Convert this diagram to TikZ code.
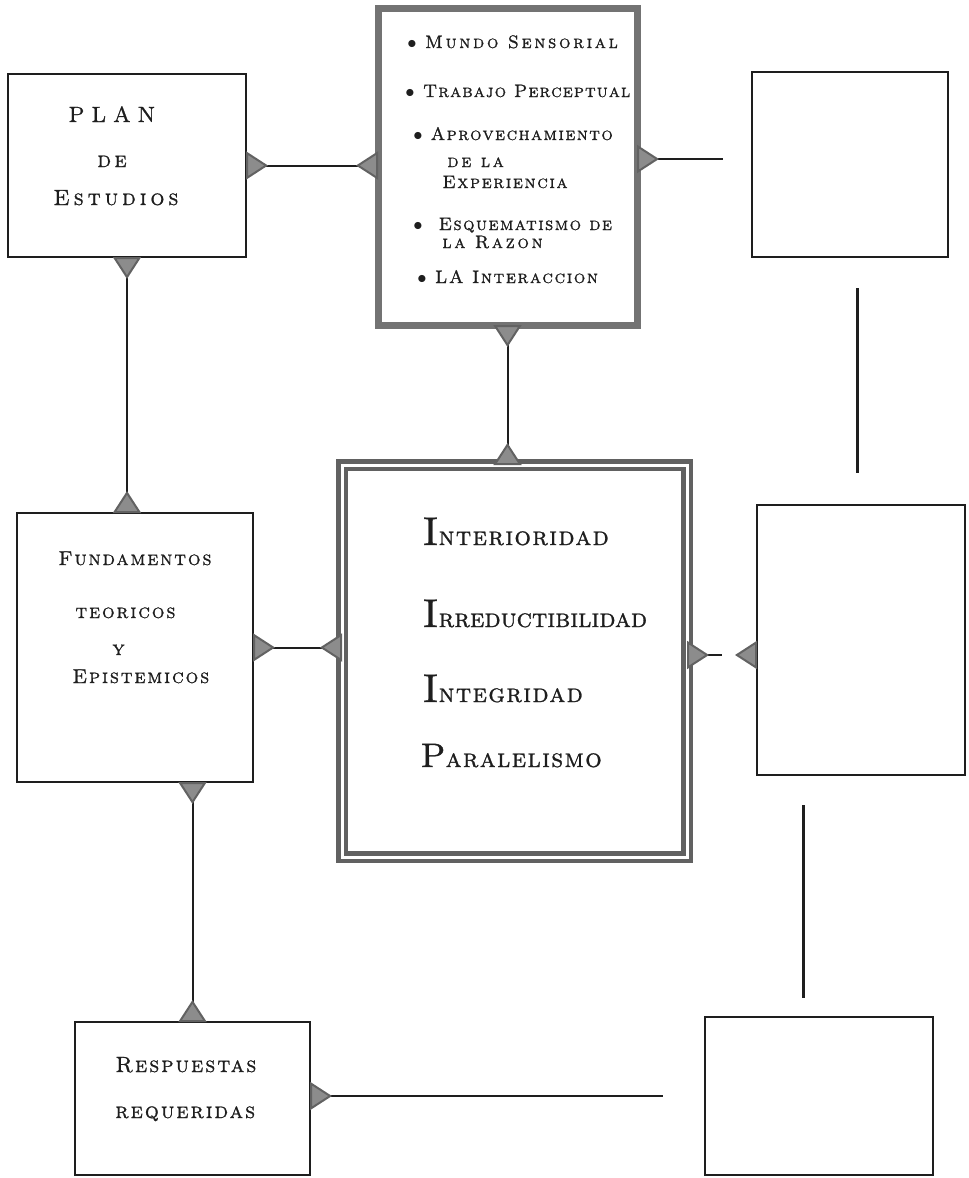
\documentclass[tikz,border=0pt]{standalone}
\usepackage{fontspec}
\newfontfamily\hand{lmromancaps10-regular.otf}[LetterSpace=9,FakeBold=1]
\usetikzlibrary{arrows.meta,positioning}
\definecolor{ink}{HTML}{1E1E1E}
\definecolor{shade}{HTML}{8C8C8C}
\tikzset{
  wedge/.tip={Triangle[reversed,length=11pt,width=14pt,fill=shade,color=shade!70!black]},
  box/.style={rectangle,draw=ink,line width=1pt,inner sep=0pt,outer sep=0pt},
  heavybox/.style={box,draw=black!55,line width=3.5pt},
  doublebox/.style={box,draw=black!62,line width=2.2pt,double=white,double distance=1.5pt},
  txt/.style={font=\hand\fontsize{9}{11}\selectfont,text=ink,inner sep=0pt,anchor=base west},
  bigtxt/.style={txt,font=\hand\fontsize{11}{13}\selectfont},
  hugetxt/.style={txt,font=\hand\fontsize{13}{15}\selectfont},
  link/.style={draw=ink,line width=1pt,{wedge}-{wedge}},
  halflink/.style={draw=ink,line width=1pt,{wedge}-},
  bare/.style={draw=ink,line width=1.5pt}
}

\begin{document}
\begin{tikzpicture}[x=0.5pt,y=-0.5pt]
  \useasboundingbox (0,0) rectangle (969,1178);
  \node[box,minimum width=119pt,minimum height=91.5pt] (plan) at (127,165.5) {};
  \node[heavybox,minimum width=129.5pt,minimum height=158.5pt] (mundo) at (507.5,166.5) {};
  \node[box,minimum width=98pt,minimum height=92.5pt] (rtop) at (850,164.5) {};
  \node[box,minimum width=118pt,minimum height=134.5pt] (fund) at (135,647.5) {};
  \node[doublebox,minimum width=172.5pt,minimum height=196pt] (inter) at (514.5,661) {};
  \node[box,minimum width=104pt,minimum height=135pt] (rmid) at (861,640) {};
  \node[box,minimum width=117.5pt,minimum height=76.5pt] (resp) at (192.5,1098.5) {};
  \node[box,minimum width=114pt,minimum height=79pt] (rbot) at (819,1096) {};

  \node[bigtxt] (pl1) at (68,122) {\addfontfeature{LetterSpace=30}PLAN};
  \node[bigtxt] (pl2) at (97,167) {\addfontfeature{LetterSpace=15}de};
  \node[bigtxt] (pl3) at (53,205) {\addfontfeature{LetterSpace=18}Estudios};

  \node[txt] (mu1) at (407,48) {$\bullet$ \addfontfeature{LetterSpace=15}Mundo Sensorial};
  \node[txt] (mu2) at (405,97) {$\bullet$ \addfontfeature{LetterSpace=6}Trabajo Perceptual};
  \node[txt] (mu3) at (413,140) {$\bullet$\hspace{4pt}\addfontfeature{LetterSpace=8}Aprovechamiento};
  \node[txt] (mu4) at (447,167) {\addfontfeature{LetterSpace=15}de la};
  \node[txt] (mu5) at (442,188) {Experiencia};
  \node[txt] (mu6) at (413,230) {$\bullet$\hspace{8pt}\addfontfeature{LetterSpace=8}Esquematismo de};
  \node[txt] (mu7) at (442,248) {\addfontfeature{LetterSpace=15}la Razon};
  \node[txt] (mu8) at (417,283) {$\bullet$ LA Interaccion};

  \node[hugetxt] (in1) at (422,545) {\addfontfeature{LetterSpace=5}{\fontsize{20}{20}\selectfont I}nterioridad};
  \node[hugetxt] (in2) at (422,627) {\addfontfeature{LetterSpace=0}{\fontsize{20}{20}\selectfont I}rreductibilidad};
  \node[hugetxt] (in3) at (422,702) {\addfontfeature{LetterSpace=5}{\fontsize{20}{20}\selectfont I}ntegridad};
  \node[hugetxt] (in4) at (420,767) {\addfontfeature{LetterSpace=5}{\fontsize{17}{17}\selectfont P}aralelismo};

  \node[txt,font=\hand\fontsize{10}{12}\selectfont] (fu1) at (58,565) {Fundamentos};
  \node[txt,font=\hand\fontsize{10}{12}\selectfont] (fu2) at (75,618) {teoricos};
  \node[txt,font=\hand\fontsize{10}{12}\selectfont] (fu3) at (112,655) {y};
  \node[txt,font=\hand\fontsize{10}{12}\selectfont] (fu4) at (72,683) {Epistemicos};

  \node[bigtxt] (re1) at (115,1072) {Respuestas};
  \node[bigtxt] (re2) at (115,1118) {requeridas};

  \coordinate (mend) at (723,159);
  \coordinate (iend) at (722,655);
  \coordinate (rstub) at (738,655);
  \coordinate (rend) at (663,1096);
  \coordinate (ra) at (857,288);
  \coordinate (rb) at (857,473);
  \coordinate (rc) at (803,805);
  \coordinate (rd) at (803,998);

  \draw[link] (plan.east) -- (plan.east -| mundo.west);
  \draw[halflink] (mend -| mundo.east) -- (mend);
  \draw[link] (plan.south) -- (plan.south |- fund.north);
  \draw[link] (mundo.south) -- (mundo.south |- inter.north);
  \draw[link] (fund.east) -- (fund.east -| inter.west);
  \draw[halflink] (iend -| inter.east) -- (iend);
  \draw[halflink] (rstub -| rmid.west) -- (rstub);
  \draw[link] (resp.north |- fund.south) -- (resp.north);
  \draw[halflink] (rend -| resp.east) -- (rend);
  \draw[bare] (ra) -- (rb);
  \draw[bare] (rc) -- (rd);
\end{tikzpicture}
\end{document}
